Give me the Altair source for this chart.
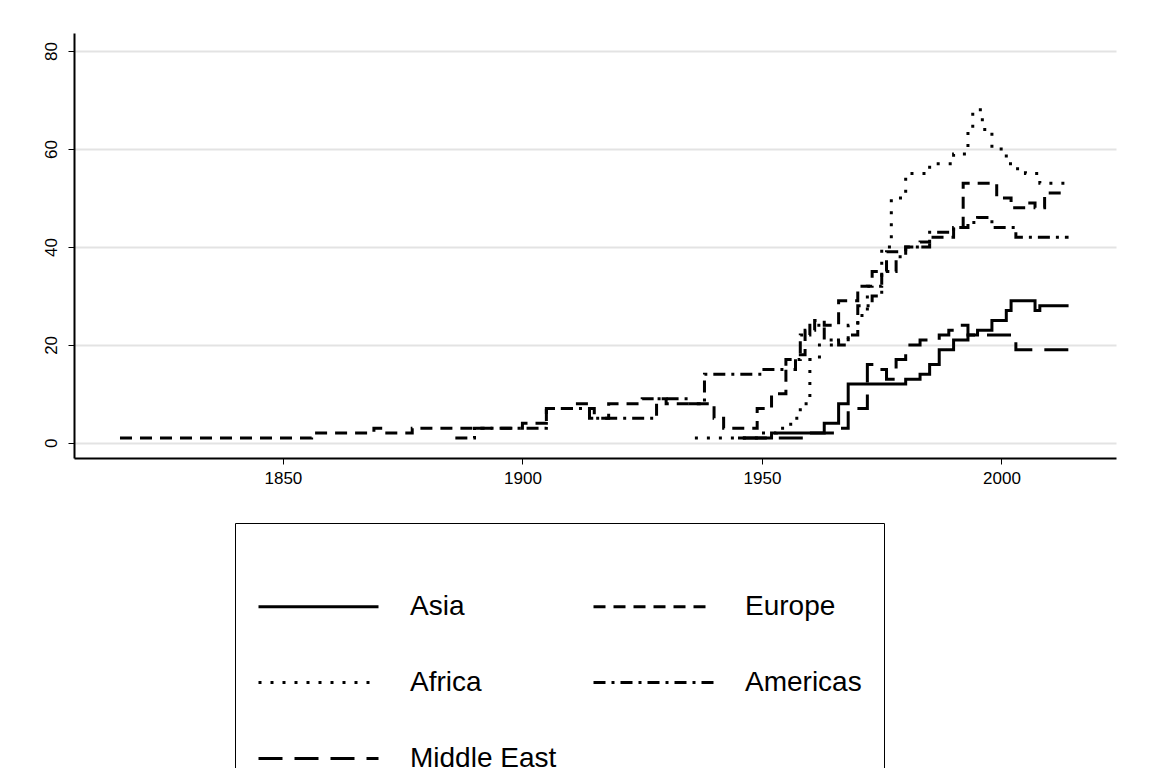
import altair as alt
import pandas as pd

asia_yr = [1945, 1952, 1960, 1963, 1966, 1968, 1972, 1977, 1980, 1983, 1985, 1987, 1990, 1993, 1995, 1998, 2001, 2002, 2006, 2007, 2008, 2014]
asia_v = [1, 2, 2, 4, 8, 12, 12, 12, 13, 14, 16, 19, 21, 22, 23, 25, 27, 29, 29, 27, 28, 28]

europe_yr = [1816, 1856, 1865, 1869, 1871, 1877, 1900, 1905, 1911, 1914, 1918, 1925, 1930, 1936, 1940, 1942, 1946, 1949, 1952, 1955, 1957, 1959, 1961, 1963, 1966, 1970, 1973, 1976, 1980, 1985, 1990, 1992, 1995, 1999, 2002, 2005, 2007, 2009, 2014]
europe_v = [1, 2, 2, 3, 2, 3, 4, 7, 8, 5, 8, 9, 8, 8, 5, 3, 3, 7, 10, 15, 18, 23, 25, 24, 29, 32, 35, 39, 40, 42, 44, 53, 53, 50, 48, 49, 48, 51, 51]

africa_yr = [1936, 1950, 1953, 1956, 1958, 1960, 1962, 1965, 1968, 1970, 1972, 1975, 1977, 1980, 1985, 1990, 1993, 1994, 1996, 1998, 2001, 2003, 2005, 2008, 2014]
africa_v = [1, 2, 3, 5, 8, 17, 20, 21, 24, 26, 32, 40, 50, 55, 57, 59, 64, 68, 64, 60, 57, 56, 55, 53, 53]

americas_yr = [1886, 1890, 1900, 1905, 1910, 1915, 1920, 1928, 1935, 1938, 1945, 1950, 1955, 1958, 1960, 1963, 1966, 1968, 1970, 1973, 1975, 1978, 1980, 1983, 1985, 1990, 1993, 1995, 1998, 2003, 2014]
americas_v = [1, 3, 3, 7, 7, 5, 5, 9, 8, 14, 14, 15, 17, 22, 24, 21, 20, 22, 28, 30, 35, 38, 40, 41, 43, 44, 45, 46, 44, 42, 42]

mideast_yr = [1946, 1960, 1963, 1966, 1968, 1972, 1974, 1976, 1978, 1980, 1983, 1987, 1989, 1991, 1993, 2000, 2003, 2014]
mideast_v = [1, 2, 2, 3, 7, 16, 15, 13, 17, 20, 21, 22, 23, 24, 22, 22, 19, 19]

series = [
    ("Asia", asia_yr, asia_v),
    ("Europe", europe_yr, europe_v),
    ("Africa", africa_yr, africa_v),
    ("Americas", americas_yr, americas_v),
    ("Middle East", mideast_yr, mideast_v),
]
rows = []
for name, yrs, vals in series:
    for y, v in zip(yrs, vals):
        rows.append({"region": name, "year": y, "value": v})
df = pd.DataFrame(rows)

# legend fills column by column, so order so that rows read Asia/Europe, Africa/Americas, Middle East
legend_order = ["Asia", "Africa", "Middle East", "Europe", "Americas"]
dash_of = {"Asia": [1, 0], "Europe": [12, 8], "Africa": [3, 9],
           "Americas": [12, 6, 3, 6], "Middle East": [24, 12]}
dashes = [dash_of[n] for n in legend_order]

chart = alt.Chart(df).mark_line(strokeWidth=3, interpolate="step-after", color="black").encode(
    x=alt.X("year:Q", scale=alt.Scale(domain=[1806.4, 2023.9], nice=False, zero=False),
            axis=alt.Axis(values=[1850, 1900, 1950, 2000], title=None, grid=False, format="d",
                          labelFontSize=17, labelFont="Liberation Sans", tickSize=6, domainWidth=2,
                          domainColor="black", tickColor="black", labelColor="black", labelPadding=6)),
    y=alt.Y("value:Q", scale=alt.Scale(domain=[-3.1, 83.7], nice=False),
            axis=alt.Axis(values=[0, 20, 40, 60, 80], title=None, labelAngle=270, labelAlign="center",
                          labelBaseline="bottom", labelFontSize=17, labelFont="Liberation Sans",
                          tickSize=6, domainWidth=2, domainColor="black", tickColor="black",
                          labelColor="black", gridColor="#e3e3e3", gridWidth=2, labelPadding=8)),
    strokeDash=alt.StrokeDash("region:N", sort=legend_order,
        scale=alt.Scale(domain=legend_order, range=dashes),
        legend=alt.Legend(title=None, orient="none", legendX=161, legendY=490, columns=2,
                          direction="vertical",
                          symbolType="stroke", symbolSize=14400, symbolStrokeWidth=3,
                          symbolStrokeColor="black",
                          labelFontSize=28, labelFont="Liberation Sans", labelColor="black",
                          labelOffset=30, rowPadding=-62, columnPadding=30,
                          padding=22, strokeColor="black", fillColor="white")),
    detail="region:N",
).properties(width=1042, height=425, background="white",
             padding={"left": 34, "top": 25, "right": 20, "bottom": 10}
).configure_view(stroke=None)

chart.save("out.html", embed_options={"renderer": "svg", "actions": False})
